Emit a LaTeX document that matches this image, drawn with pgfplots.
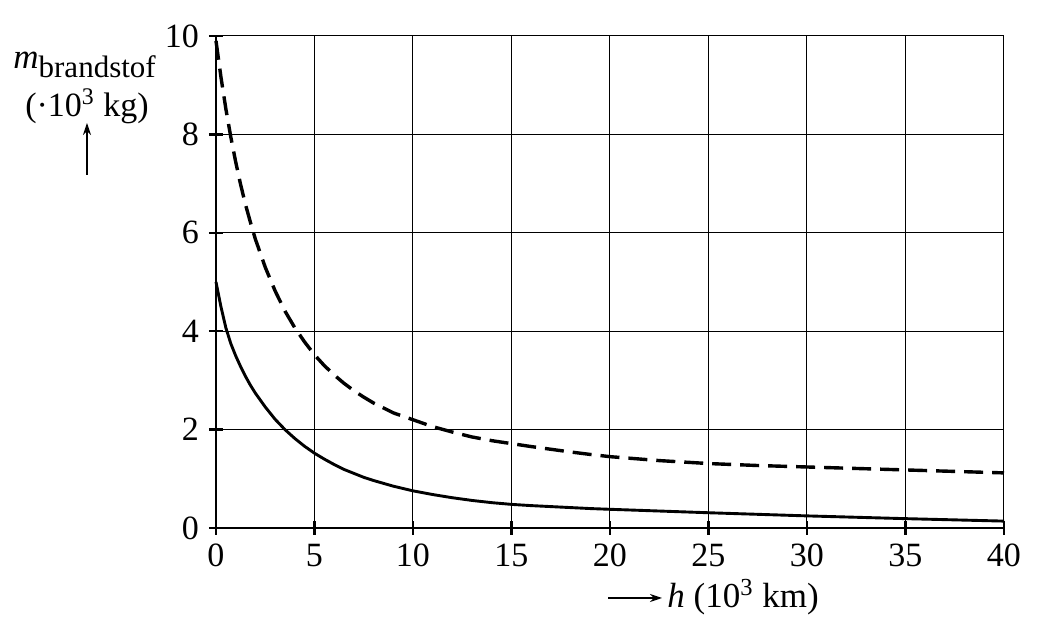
\documentclass[border=0pt]{standalone}
\usepackage{fontspec}
\setmainfont{Liberation Serif}
\usepackage{pgfplots}
\pgfplotsset{compat=1.18}
\usetikzlibrary{arrows.meta}

% lower curve (solid) and upper curve (dashed)
\newcommand{\solidcurve}{
(0,5.0) (0.25,4.5) (0.5,4.07) (0.75,3.75) (1,3.5) (1.25,3.28) (1.5,3.08) (1.75,2.9)
(2,2.74) (2.5,2.46) (3,2.21) (3.5,2.0) (4,1.82) (4.5,1.66) (5,1.52) (5.5,1.40)
(6,1.29) (6.5,1.19) (7,1.11) (7.5,1.03) (8,0.965) (9,0.85) (10,0.755) (11,0.68)
(12,0.615) (13,0.56) (14,0.515) (15,0.48) (16,0.455) (17,0.435) (18,0.415)
(19,0.395) (20,0.38) (22.5,0.345) (25,0.31) (27.5,0.278) (30,0.246) (32.5,0.218)
(35,0.19) (37.5,0.165) (40,0.14)
}
\newcommand{\dashedcurve}{
(0,9.9) (0.25,9.17) (0.5,8.52) (0.75,7.95) (1,7.44) (1.25,6.98) (1.5,6.57)
(1.75,6.21) (2,5.87) (2.5,5.30) (3,4.82) (3.5,4.41) (4,4.07) (4.5,3.78) (5,3.52)
(5.5,3.30) (6,3.11) (6.5,2.94) (7,2.79) (7.5,2.66) (8,2.54) (9,2.34) (10,2.2)
(11,2.06) (12,1.95) (13,1.85) (14,1.775) (15,1.715) (16,1.655) (17,1.60)
(18,1.545) (19,1.495) (20,1.45) (22.5,1.37) (25,1.31) (27.5,1.27) (30,1.24)
(32.5,1.21) (35,1.18) (37.5,1.15) (40,1.12)
}

\begin{document}
\begin{tikzpicture}
\useasboundingbox (-108pt,-57pt) rectangle (414.5pt,264pt);
\begin{axis}[
	scale only axis,
	width=394pt, height=246pt,
	xmin=0, xmax=40, ymin=0, ymax=10,
	xtick={0,5,...,40}, ytick={0,2,...,10},
	axis lines=left,
	axis line style={-, line width=1.2pt},
	tick align=center,
	major tick length=7pt,
	tick style={line width=1.2pt, black},
	grid=major,
	grid style={black, line width=0.5pt},
	tick label style={font=\fontsize{17}{20}\selectfont},
	/pgf/number format/assume math mode=true,
	xticklabel style={yshift=-1pt},
	yticklabel style={xshift=-1.5pt},
	clip=false,
]
\addplot[black, line width=1.45pt, line join=round] coordinates {\solidcurve};
\addplot[black, line width=1.7pt, line join=round, dash pattern=on 9.5pt off 4.5pt] coordinates {\dashedcurve};
\end{axis}

% y label
\node[anchor=base west, inner sep=0pt] at (-101.5pt,229.5pt)
	{\fontsize{17.5}{20}\selectfont\textit{m}\raisebox{-4.5pt}{\fontsize{15.5}{18}\selectfont brandstof}};
\node[anchor=base, inner sep=0pt] at (-64.5pt,205.5pt)
	{\fontsize{17}{20}\selectfont(·10\textsuperscript{3} kg)};
\draw[line width=0.6pt, -{Stealth[length=6pt, width=4pt]}] (-64.5pt,176.5pt) -- (-64.5pt,202.5pt);

% x label
\draw[line width=0.6pt, -{Stealth[length=6pt, width=4pt]}] (196pt,-35pt) -- (223pt,-35pt);
\node[anchor=base west, inner sep=0pt] at (225.5pt,-40pt)
	{\fontsize{17.5}{20}\selectfont\textit{h} (10\textsuperscript{3} km)};
\end{tikzpicture}
\end{document}
